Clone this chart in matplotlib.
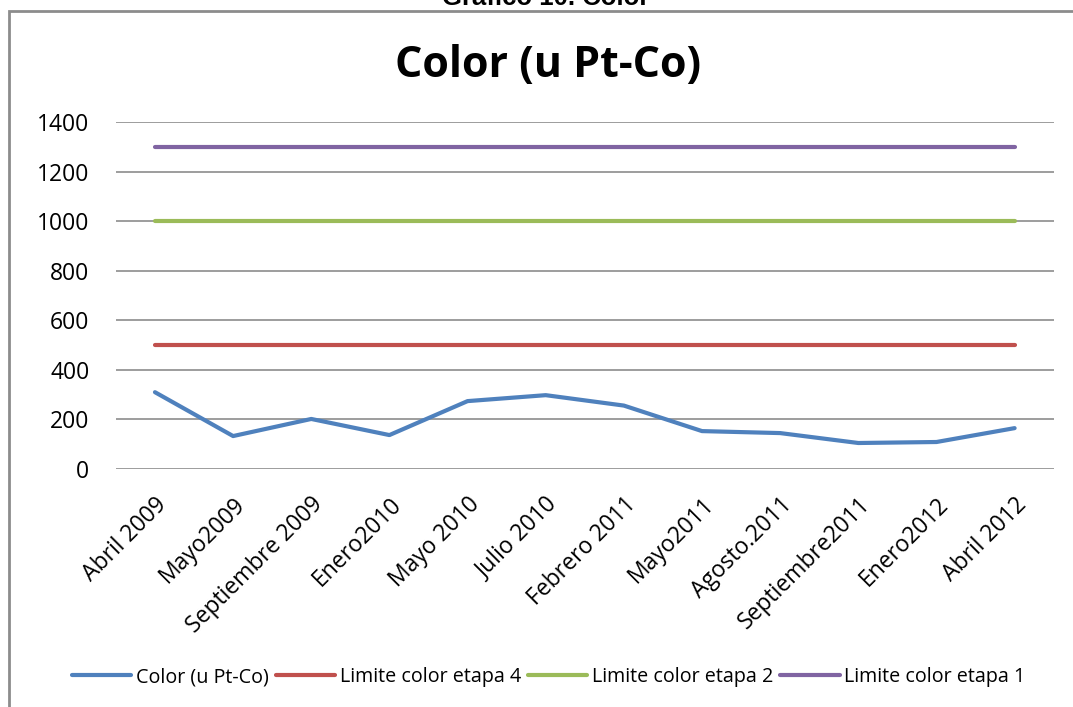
import matplotlib.pyplot as plt
from matplotlib.patches import Rectangle

fechas = ['Abril 2009', 'Mayo2009', 'Septiembre 2009', 'Enero2010', 'Mayo 2010',
          'Julio 2010', 'Febrero 2011', 'Mayo2011', 'Agosto.2011', 'Septiembre2011',
          'Enero2012', 'Abril 2012']
color_pt_co = [310, 133, 202, 137, 274, 298, 256, 153, 145, 105, 109, 165]
limite_etapa4 = [500] * 12
limite_etapa2 = [1000] * 12
limite_etapa1 = [1300] * 12

plt.rcParams['font.family'] = ['Open Sans', 'DejaVu Sans']

fig = plt.figure(figsize=(10.73, 7.07), dpi=100)
ax = fig.add_axes([0.108, 0.3366, 0.874, 0.4908])

x = list(range(len(fechas)))
ax.plot(x, color_pt_co, color='#4F81BD', lw=3, label='Color (u Pt-Co)', solid_capstyle='round')
ax.plot(x, limite_etapa4, color='#C0504D', lw=3, label='Limite color etapa 4', solid_capstyle='round')
ax.plot(x, limite_etapa2, color='#9BBB59', lw=3, label='Limite color etapa 2', solid_capstyle='round')
ax.plot(x, limite_etapa1, color='#8064A2', lw=3, label='Limite color etapa 1', solid_capstyle='round')

ax.set_xlim(-0.5, len(fechas) - 0.5)
ax.set_ylim(0, 1400)
ax.set_yticks(range(0, 1401, 200))
ax.yaxis.grid(True, color='#8c8c8c', lw=1.2)
ax.set_axisbelow(True)
for s in ax.spines.values():
    s.set_visible(False)
ax.tick_params(length=0, labelsize=16.5, colors='black')
ax.tick_params(axis='y', pad=19)
ax.set_xticks(x)
ax.set_xticklabels(fechas, rotation=45, ha='right', rotation_mode='anchor')
ax.tick_params(axis='x', pad=17)

fig.text(548 / 1073, 1 - 65 / 707, 'Color (u Pt-Co)', ha='center', va='center',
         fontsize=31, fontweight='bold')

ax.legend(loc='center', bbox_to_anchor=((549 - 116) / 938, -(677 - 469) / 347), ncol=4,
          frameon=False, fontsize=14.2, handlelength=3.0, handletextpad=0.25,
          columnspacing=0.35)

# gray frame around the chart area
fig.patches.append(Rectangle((9 / 1073, -0.05), 1.2, 1 - 11 / 707 + 0.05,
                             transform=fig.transFigure, fill=False,
                             edgecolor='#8c8c8c', lw=2))

fig.text(546 / 1073, 1 - 5 / 707, 'Gráfico 10. Color', ha='center', va='baseline',
         fontsize=18.5, fontweight='bold', family='Liberation Sans')

fig.savefig('out.png', dpi=100)
